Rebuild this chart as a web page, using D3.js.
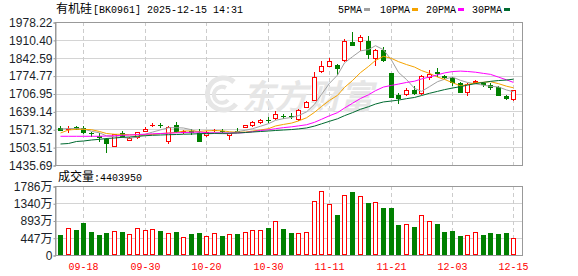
<!DOCTYPE html>
<html><head><meta charset="utf-8">
<script src="https://cdn.jsdelivr.net/npm/d3@7"></script>
<style>body{margin:0;background:#fff}svg{display:block}</style>
</head><body>
<svg id="c" width="578" height="276"></svg>
<script>
const dates = ['09-15','09-16','09-17','09-18','09-19','09-22','09-23','09-24','09-25','09-26','09-29','09-30',
'10-09','10-10','10-13','10-14','10-15','10-16','10-17','10-20','10-21','10-22','10-23','10-24','10-27','10-28','10-29','10-30','10-31',
'11-03','11-04','11-05','11-06','11-07','11-10','11-11','11-12','11-13','11-14','11-17','11-18','11-19','11-20','11-21','11-24','11-25','11-26','11-27','11-28',
'12-01','12-02','12-03','12-04','12-05','12-08','12-09','12-10','12-11','12-12','12-15'];
const open = [1574.9,1568.5,1578.7,1574.9,1557.5,1545.7,1533.2,1505.1,1555.8,1527.9,1537.0,1562.0,1587.4,1587.4,1524.2,1588.9,1556.2,1566.2,1555.8,1545.7,
1563.9,1563.0,1546.5,1566.5,1577.8,1582.5,1596.9,1606.4,1609.0,1622.3,1622.7,1605.3,1651.9,1677.4,1787.0,1806.4,1814.4,1830.3,1902.4,1901.6,
1906.6,1836.2,1870.1,1784.8,1702.4,1701.3,1722.1,1703.9,1764.6,1789.7,1773.4,1764.6,1745.7,1710.0,1745.7,1745.7,1741.0,1731.1,1697.5,1683.9];
const high = [1583.6,1583.6,1583.6,1583.6,1562.0,1555.8,1537.0,1553.3,1564.7,1541.9,1560.9,1581.0,1593.9,1593.9,1583.6,1599.9,1568.5,1571.0,1571.1,1564.7,
1570.4,1570.4,1557.1,1576.0,1589.3,1604.5,1610.2,1617.8,1639.4,1630.3,1634.1,1647.0,1677.4,1788.5,1831.4,1841.6,1817.0,1914.9,1939.1,1927.8,
1925.1,1875.8,1883.4,1786.6,1708.9,1729.0,1735.4,1777.2,1796.1,1802.6,1775.3,1770.0,1748.7,1744.9,1758.2,1748.7,1746.0,1735.4,1699.4,1722.0];
const low = [1562.8,1555.8,1566.6,1553.3,1543.0,1524.2,1482.4,1504.0,1540.0,1526.7,1534.3,1560.9,1581.0,1574.9,1514.1,1556.0,1553.3,1550.0,1522.0,1541.9,
1560.9,1557.1,1529.4,1559.0,1576.0,1579.9,1591.2,1596.2,1608.3,1611.3,1609.0,1604.5,1650.8,1677.4,1786.4,1805.6,1777.2,1828.3,1887.2,1867.4,
1836.7,1810.2,1826.5,1689.9,1669.0,1695.6,1701.3,1703.1,1758.2,1770.7,1763.0,1735.4,1708.9,1698.6,1741.9,1733.0,1719.9,1695.6,1683.0,1678.2];
const close = [1565.8,1572.3,1568.5,1555.8,1555.8,1536.9,1514.1,1552.2,1543.0,1539.3,1559.7,1571.1,1589.3,1585.0,1581.0,1559.0,1566.2,1556.2,1524.2,1562.0,
1568.5,1561.5,1555.2,1564.7,1587.4,1598.1,1608.3,1603.8,1628.0,1620.4,1619.7,1643.2,1674.7,1771.4,1809.4,1829.5,1798.7,1906.2,1889.0,1920.2,
1853.8,1872.0,1830.3,1691.0,1687.2,1719.4,1703.9,1773.4,1781.0,1781.0,1765.8,1745.7,1710.0,1741.9,1754.4,1739.2,1726.0,1697.5,1684.9,1719.9];
// volume in 万 (10k)
const volume = [518,690,647,837,604,518,578,621,604,544,690,647,664,621,561,595,457,552,578,492,
561,492,544,544,595,647,647,708,880,673,578,561,595,1390,1649,1320,1035,1553,1631,1519,
1346,1364,1217,1217,777,795,725,1028,872,802,595,621,492,510,595,518,569,544,569,440.395];
const ma5Head = [1572.3,1574.2,1574.2,1572.3];
const ma10Head = [1557.1,1568.5,1571.1,1571.1,1569.6,1562.8,1555.2,1552.2,1552.2];
const ma20Head = [1544.6,1544.6,1544.6,1544.6,1544.6,1544.6,1545.7,1546.8,1548.4,1549.5,1551.4,1552.5,1554.0,1555.2,1556.3,1557.8,1558.9,1559.7,1560.9];
const ma30Head = [1515.4,1517.3,1524.9,1526.7,1530.5,1533.2,1536.2,1538.1,1540.8,1541.9,1544.6,1546.8,1548.4,1549.5,1550.6,1551.4,1552.5,1553.3,1554.4,1555.2,
1555.9,1555.9,1556.3,1557.1,1559.0,1560.9,1562.8,1564.7,1566.6];
const priceTicks = [1978.22,1910.40,1842.59,1774.77,1706.95,1639.14,1571.32,1503.51,1435.69];
const volTicks = [0,447,893,1340,1786];
const xTickLabels = ['09-18','09-30','10-20','10-30','11-11','11-21','12-03','12-15'];
const maNames = ['5PMA','10PMA','20PMA','30PMA'];
const maPeriods = [5,10,20,30];
const maHeads = [ma5Head,ma10Head,ma20Head,ma30Head];

const RED='#ff0000', GREEN='#008000';
const maColors=['#a0a0a0','#f5a300','#ff00ff','#006a30'];
const L=55,R=522,T=22,B=165,VT=186,VB=255;
const MONO='"Liberation Mono","DejaVu Sans Mono",monospace';
const CJK='"Noto Sans CJK SC",sans-serif';
const SANS='"Liberation Sans",Arial,sans-serif';

const svg=d3.select('#c');
const x=d3.scaleBand().domain(dates).range([56.5,517.3]);
const cx=d=>Math.round(x(d)+x.bandwidth()/2);
const y=d3.scaleLinear().domain([1435.69,1978.22]).range([B,T]);
const yv=d3.scaleLinear().domain([0,1786]).range([VB,VT]);

const isUp=i=> close[i]>open[i] || (close[i]===open[i] && (i===0 || close[i]>=close[i-1]));

// gridlines
const g=svg.append('g');
g.selectAll('.hg').data(priceTicks).join('line')
 .attr('x1',L).attr('x2',R).attr('y1',d=>Math.round(y(d))+0.5).attr('y2',d=>Math.round(y(d))+0.5)
 .attr('stroke','#d4d4d4');
g.selectAll('.hv').data(volTicks).join('line')
 .attr('x1',L).attr('x2',R).attr('y1',d=>Math.round(yv(d))+0.5).attr('y2',d=>Math.round(yv(d))+0.5)
 .attr('stroke','#d4d4d4');
[[T,B],[VT,VB]].forEach(([a,b])=>{
 g.append('g').selectAll('line').data(xTickLabels).join('line')
  .attr('x1',d=>cx(d)+0.5).attr('x2',d=>cx(d)+0.5).attr('y1',a).attr('y2',b)
  .attr('stroke','#cccccc').attr('stroke-dasharray','4,3');
});

// watermark
const wm=svg.append('g').attr('fill','none').attr('stroke','#e6e6e6').attr('stroke-width',5);
wm.append('path').attr('d','M234,82 A16,16 0 1 0 236,104');
wm.append('path').attr('d','M226,88 A8,8 0 1 0 228,100').attr('stroke-width',4);
svg.append('text').attr('x',242).attr('y',109).attr('font-family',CJK).attr('font-weight','bold')
 .attr('font-style','italic').attr('font-size',34).attr('fill','#e6e6e6')
 .attr('textLength',131).attr('lengthAdjust','spacingAndGlyphs').text('东方财富');

// frames
svg.append('rect').attr('x',L+0.5).attr('y',T+0.5).attr('width',R-L).attr('height',B-T).attr('fill','none').attr('stroke','#999');
svg.append('rect').attr('x',L+0.5).attr('y',VT+0.5).attr('width',R-L).attr('height',VB-VT).attr('fill','none').attr('stroke','#999');

// axes
const ya=svg.append('g').attr('transform',`translate(${L+0.5},0.5)`)
 .call(d3.axisLeft(y).tickValues(priceTicks).tickFormat(d3.format('.2f')).tickSize(2).tickPadding(1));
const yva=svg.append('g').attr('transform',`translate(${L+0.5},0.5)`)
 .call(d3.axisLeft(yv).tickValues(volTicks).tickFormat(d=>d===0?'0':d+'万').tickSize(2).tickPadding(1));
[ya,yva].forEach(a=>{
 a.select('.domain').attr('stroke','#999');
 a.selectAll('.tick line').attr('stroke','#999');
 a.selectAll('.tick text').attr('font-family',SANS+','+CJK).attr('font-size',12).attr('fill','#1b1f2a');
});
svg.append('g').selectAll('text').data(xTickLabels).join('text')
 .attr('x',d=>cx(d)+0.5).attr('y',270).attr('text-anchor','middle')
 .attr('font-family',MONO).attr('font-size',11).attr('fill',RED)
 .attr('textLength',30).attr('lengthAdjust','spacingAndGlyphs').text(d=>d);

// candles
const idx=d3.range(dates.length);
const cg=svg.append('g');
idx.forEach(i=>{
 const c=cx(dates[i])+0.5, up=isUp(i);
 const top=Math.round(y(Math.max(open[i],close[i]))), bot=Math.round(y(Math.min(open[i],close[i])));
 const hy=Math.round(y(high[i])), ly=Math.round(y(low[i]));
 const col=up?RED:GREEN;
 if(up){
  if(hy<top) cg.append('line').attr('x1',c).attr('x2',c).attr('y1',hy).attr('y2',top).attr('stroke',col);
  if(ly>bot) cg.append('line').attr('x1',c).attr('x2',c).attr('y1',bot).attr('y2',ly).attr('stroke',col);
  cg.append('rect').attr('x',c-2).attr('y',top+0.5).attr('width',4).attr('height',Math.max(bot-top-1,0))
   .attr('fill','#fff').attr('stroke',col);
  if(bot-top<=1) cg.append('line').attr('x1',c-2.5).attr('x2',c+2.5).attr('y1',top+0.5).attr('y2',top+0.5).attr('stroke',col);
 } else {
  cg.append('line').attr('x1',c).attr('x2',c).attr('y1',hy).attr('y2',ly).attr('stroke',col);
  cg.append('rect').attr('x',c-2.5).attr('y',top).attr('width',5).attr('height',Math.max(bot-top,1)).attr('fill',col);
 }
});

// moving averages
maPeriods.forEach((n,k)=>{
 const vals=idx.map(i=> i<n-1 ? maHeads[k][i] : d3.mean(close.slice(i-n+1,i+1)));
 svg.append('path').datum(vals)
  .attr('d',d3.line().x((v,i)=>cx(dates[i])+0.5).y(v=>y(v)))
  .attr('fill','none').attr('stroke',maColors[k]).attr('stroke-width',1);
});

// volume bars
const vg=svg.append('g');
idx.forEach(i=>{
 const c=cx(dates[i])+0.5, up=isUp(i), t=Math.round(yv(volume[i]));
 if(up) vg.append('rect').attr('x',c-2).attr('y',t+0.5).attr('width',4).attr('height',VB-t-1).attr('fill','#fff').attr('stroke',RED);
 else vg.append('rect').attr('x',c-2.5).attr('y',t).attr('width',5).attr('height',VB-t).attr('fill',GREEN);
});

// title
const tt=svg.append('text').attr('x',56).attr('y',13);
tt.append('tspan').attr('font-family',CJK).attr('font-size',12).attr('fill','#000').text('有机硅');
tt.append('tspan').attr('font-family',MONO).attr('font-size',10).attr('fill','#000').attr('dx',1).text('[BK0961] 2025-12-15 14:31');

// legend
const lx=[338,380,426,472];
maNames.forEach((nm,k)=>{
 const w=nm.length*6;
 svg.append('text').attr('x',lx[k]).attr('y',13).attr('font-family',MONO).attr('font-size',10).attr('fill','#000')
  .attr('textLength',w).attr('lengthAdjust','spacingAndGlyphs').text(nm);
 svg.append('rect').attr('x',lx[k]+w+2).attr('y',8).attr('width',6).attr('height',3).attr('fill',maColors[k]);
});

// volume label
const vt=svg.append('text').attr('x',58).attr('y',181);
vt.append('tspan').attr('font-family',CJK).attr('font-size',12).attr('fill','#000').text('成交量');
vt.append('tspan').attr('font-family',MONO).attr('font-size',10).attr('fill','#000').text(':'+Math.round(volume[volume.length-1]*10000));
</script>
</body></html>
